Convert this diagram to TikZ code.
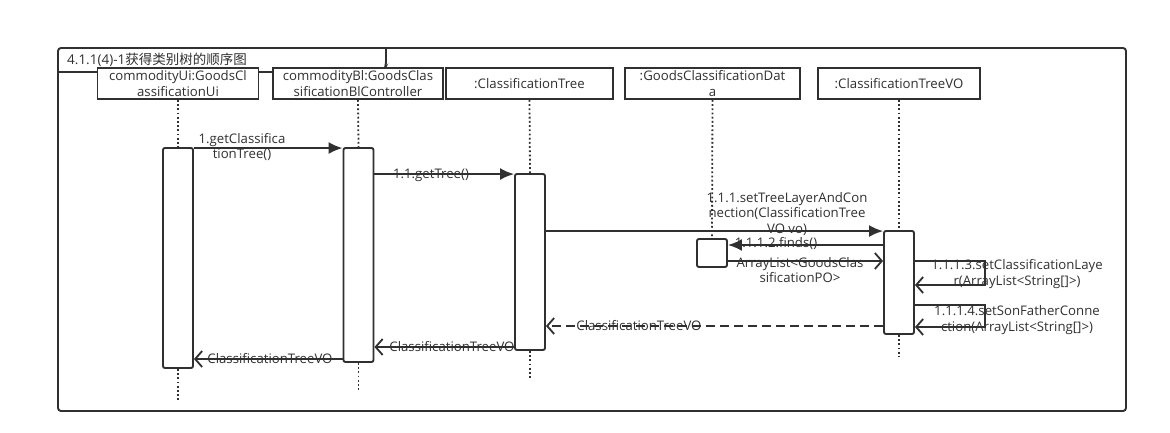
\documentclass[tikz,border=0pt]{standalone}
\usepackage{fontspec}
\setmainfont{Open Sans}
\newfontfamily\cjk{Noto Sans CJK SC}
\usetikzlibrary{arrows.meta,calc}
\definecolor{ink}{HTML}{303030}

\begin{document}
\begin{tikzpicture}[x=1pt,y=-1pt,
  every node/.style={font=\fontsize{13.2}{15.5}\selectfont, text=ink, inner sep=0pt},
  stroke/.style={draw=ink, line width=1.9pt},
  head/.style={stroke, fill=white, minimum height=31pt, align=center},
  act/.style={stroke, fill=white, rounded corners=2pt, minimum width=30pt},
  life/.style={draw=ink, line width=1.8pt, dash pattern=on 1.8pt off 2.4pt},
  call/.style={stroke, -{Latex[length=14pt,width=12pt]}},
  ret/.style={stroke, -{Straight Barb[length=7pt,width=16pt,line width=1.8pt]}},
  reply/.style={ret, dash pattern=on 9pt off 5pt},
  lbl/.style={align=center}
]
\useasboundingbox (0,0) rectangle (1170,433);

% frame with its title tab
\draw[stroke, rounded corners=3pt] (58,48) rectangle (1126,411);
\draw[stroke, rounded corners=4pt] (58,72) -- (383,72) -- (386,66) -- (386,48);
\node[anchor=west, font=\fontsize{13.5}{15.5}\selectfont] (title) at (67,60) {4.1.1(4)-1{\cjk 获得类别树的顺序图}};

% lifeline heads
\node[head, minimum width=161pt] (h1) at (178,83.5) {commodityUi:GoodsCl\\assificationUi};
\node[head, minimum width=170pt] (h2) at (358,83.5) {commodityBl:GoodsClas\\sificationBlController};
\node[head, minimum width=167pt] (h3) at (529.5,83.5) {:ClassificationTree};
\node[head, minimum width=175pt] (h4) at (712.5,83.5) {:GoodsClassificationDat\\a};
\node[head, minimum width=162pt] (h5) at (899,83.5) {:ClassificationTreeVO};

% activation bars
\node[act, minimum height=220pt] (a1) at (178,258) {};
\node[act, minimum height=214pt] (a2) at (358.5,255) {};
\node[act, minimum height=176pt] (a3) at (530,262) {};
\node[act, minimum height=28pt]  (a4) at (712,253) {};
\node[act, minimum height=103pt] (a5) at (899,282.5) {};

% lifeline ends
\coordinate (e1) at (178,400);
\coordinate (e2) at (358.5,390);
\coordinate (e3) at (530,380);
\coordinate (e5) at (899,356);

% dotted lifelines
\draw[life] (h1.south) -- (a1.north);
\draw[life] (a1.south) -- (e1);
\draw[life] (h2.south) -- (a2.north);
\draw[life] (a2.south) -- (e2);
\draw[life] (h3.south) -- (a3.north);
\draw[life] (a3.south) -- (e3);
\draw[life] (h4.south) -- (a4.north);
\draw[life] (h5.south) -- (a5.north);
\draw[life] (a5.south) -- (e5);

% message levels
\coordinate (m4) at (0,245);
\coordinate (m5) at (0,261);
\coordinate (r1) at (0,326);
\coordinate (r2) at (0,347);
\coordinate (r3) at (0,359);
\coordinate (s1) at (985,261);
\coordinate (s1b) at (985,285);
\coordinate (s2) at (985,305);
\coordinate (s2b) at (985,327);

% calls
\draw[call] ($(a1.north east)+(0,1)$) -- ($(a2.north west)+(0,1)$);
\draw[call] ($(a2.east |- a3.north)+(0,1)$) -- ($(a3.north west)+(0,1)$);
\draw[call] ($(a3.east |- a5.north)+(0,1)$) -- ($(a5.north west)+(0,1)$);
\draw[call] (a5.west |- m4) -- (a4.east |- m4);
\draw[ret] (a4.east |- m5) -- (a5.west |- m5);
\draw[ret] (a5.east |- s1) -- (s1) -- (s1b) -- (a5.east |- s1b);
\draw[ret] (a5.east |- s2) -- (s2) -- (s2b) -- (a5.east |- s2b);

% replies
\draw[reply] (a5.west |- r1) -- (a3.east |- r1);
\draw[ret] (a3.west |- r2) -- (a2.east |- r2);
\draw[ret] (a2.west |- r3) -- (a1.east |- r3);

% message labels
\node[lbl] (l1) at (242,147) {1.getClassifica\\tionTree()};
\node[lbl] (l2) at (431,175) {1.1.getTree()};
\node[lbl] (l3) at (787,214) {1.1.1.setTreeLayerAndCon\\nection(ClassificationTree\\VO vo)};
\node[lbl] (l4) at (776,243) {1.1.1.2.finds()};
\node[lbl] (l5) at (800,270) {ArrayList<GoodsClas\\sificationPO>};
\node[lbl] (l6) at (1017,274) {1.1.1.3.setClassificationLaye\\r(ArrayList<String[]>)};
\node[lbl] (l7) at (1017,320) {1.1.1.4.setSonFatherConne\\ction(ArrayList<String[]>)};
\node[lbl] (l8) at (639,326) {ClassificationTreeVO};
\node[lbl] (l9) at (452,347) {ClassificationTreeVO};
\node[lbl] (l10) at (270,359) {ClassificationTreeVO};
\end{tikzpicture}
\end{document}
